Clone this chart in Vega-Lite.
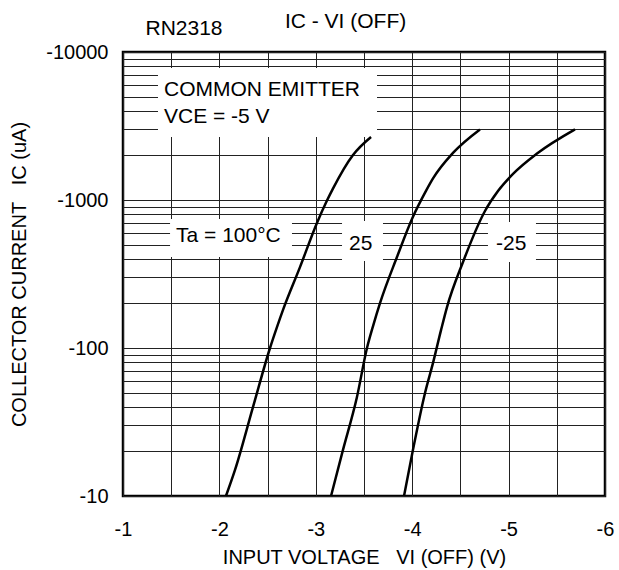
{
  "$schema": "https://vega.github.io/schema/vega-lite/v6.json",
  "width": 482,
  "height": 444,
  "autosize": {"type": "none"},
  "padding": {"left": 123, "top": 52, "right": 14, "bottom": 74},
  "background": "white",
  "config": {
    "view": {"stroke": "black", "strokeWidth": 2.5},
    "font": "Liberation Sans"
  },
  "datasets": {
    "curves": [
      {"ta": "100", "vi": -2.068, "ic": 10},
      {"ta": "100", "vi": -2.162, "ic": 15},
      {"ta": "100", "vi": -2.349, "ic": 40},
      {"ta": "100", "vi": -2.525, "ic": 100},
      {"ta": "100", "vi": -2.598, "ic": 139},
      {"ta": "100", "vi": -2.660, "ic": 181},
      {"ta": "100", "vi": -2.836, "ic": 352},
      {"ta": "100", "vi": -3.012, "ic": 700},
      {"ta": "100", "vi": -3.116, "ic": 991},
      {"ta": "100", "vi": -3.178, "ic": 1194},
      {"ta": "100", "vi": -3.386, "ic": 2015},
      {"ta": "100", "vi": -3.573, "ic": 2667},
      {"ta": "25", "vi": -3.158, "ic": 10},
      {"ta": "25", "vi": -3.282, "ic": 20.5},
      {"ta": "25", "vi": -3.427, "ic": 46.7},
      {"ta": "25", "vi": -3.531, "ic": 100},
      {"ta": "25", "vi": -3.593, "ic": 140},
      {"ta": "25", "vi": -3.666, "ic": 201},
      {"ta": "25", "vi": -3.842, "ic": 412},
      {"ta": "25", "vi": -4.0, "ic": 751},
      {"ta": "25", "vi": -4.143, "ic": 1153},
      {"ta": "25", "vi": -4.216, "ic": 1400},
      {"ta": "25", "vi": -4.423, "ic": 2080},
      {"ta": "25", "vi": -4.703, "ic": 3000},
      {"ta": "-25", "vi": -3.915, "ic": 10},
      {"ta": "-25", "vi": -4.008, "ic": 20.5},
      {"ta": "-25", "vi": -4.133, "ic": 49.7},
      {"ta": "-25", "vi": -4.216, "ic": 79.3},
      {"ta": "-25", "vi": -4.299, "ic": 132},
      {"ta": "-25", "vi": -4.361, "ic": 189},
      {"ta": "-25", "vi": -4.527, "ic": 381},
      {"ta": "-25", "vi": -4.755, "ic": 843},
      {"ta": "-25", "vi": -4.890, "ic": 1150},
      {"ta": "-25", "vi": -5.046, "ic": 1500},
      {"ta": "-25", "vi": -5.295, "ic": 2060},
      {"ta": "-25", "vi": -5.689, "ic": 3000}
    ],
    "boxes": [
      {"vi": -1.363, "vi2": -3.635, "ic": 7800, "ic2": 2667},
      {"vi": -1.488, "vi2": -2.753, "ic": 745, "ic2": 412},
      {"vi": -3.272, "vi2": -3.697, "ic": 722, "ic2": 387},
      {"vi": -4.786, "vi2": -5.284, "ic": 710, "ic2": 381}
    ],
    "labels": [
      {"label": "COMMON EMITTER", "vi": -1.425, "ic": 5045},
      {"label": "VCE = -5 V", "vi": -1.425, "ic": 3296},
      {"label": "Ta = 100°C", "vi": -1.55, "ic": 520},
      {"label": "25", "vi": -3.344, "ic": 459},
      {"label": "-25", "vi": -4.869, "ic": 459},
      {"label": "RN2318", "vi": -1.233, "ic": 13030},
      {"label": "IC - VI (OFF)", "vi": -2.68, "ic": 14420}
    ]
  },
  "encoding": {
    "x": {
      "field": "vi",
      "type": "quantitative",
      "scale": {"domain": [-6, -1], "reverse": true, "nice": false, "zero": false},
      "axis": {
        "title": "INPUT VOLTAGE\u00a0\u00a0\u00a0VI (OFF) (V)",
        "values": [-1, -1.5, -2, -2.5, -3, -3.5, -4, -4.5, -5, -5.5, -6],
        "labelExpr": "datum.value % 1 == 0 ? '-' + abs(datum.value) : ''",
        "grid": true,
        "gridColor": "#222222",
        "gridOpacity": 1,
        "gridWidth": 1,
        "ticks": false,
        "tickSize": 0,
        "domain": false,
        "labelPadding": 23,
        "labelFontSize": 20,
        "labelColor": "black",
        "labelOverlap": false,
        "labelFlush": false,
        "labelBound": false,
        "titleFontSize": 20,
        "titleFontWeight": "normal",
        "titleColor": "black",
        "titlePadding": 8
      }
    },
    "y": {
      "field": "ic",
      "type": "quantitative",
      "scale": {"type": "log", "domain": [10, 10000], "nice": false},
      "axis": {
        "title": "COLLECTOR CURRENT\u00a0\u00a0\u00a0IC (uA)",
        "values": [10, 20, 30, 40, 50, 60, 70, 80, 90, 100, 200, 300, 400, 500, 600, 700, 800, 900, 1000, 2000, 3000, 4000, 5000, 6000, 7000, 8000, 9000, 10000],
        "labelExpr": "indexof([10, 100, 1000, 10000], datum.value) >= 0 ? '-' + datum.value : ''",
        "grid": true,
        "gridColor": "#222222",
        "gridOpacity": 1,
        "gridWidth": 1,
        "ticks": false,
        "tickSize": 0,
        "domain": false,
        "labelPadding": 15,
        "labelFontSize": 20,
        "labelColor": "black",
        "labelOverlap": false,
        "labelFlush": false,
        "labelBound": false,
        "titleFontSize": 20,
        "titleFontWeight": "normal",
        "titleColor": "black",
        "titlePadding": 16
      }
    }
  },
  "layer": [
    {
      "data": {"name": "boxes"},
      "mark": {"type": "rect", "fill": "white"},
      "encoding": {
        "x2": {"field": "vi2"},
        "y2": {"field": "ic2"}
      }
    },
    {
      "data": {"name": "curves"},
      "mark": {"type": "line", "color": "black", "strokeWidth": 2.5, "interpolate": "monotone"},
      "encoding": {
        "detail": {"field": "ta", "type": "nominal"}
      }
    },
    {
      "data": {"name": "labels"},
      "mark": {"type": "text", "align": "left", "baseline": "alphabetic", "fontSize": 21, "color": "black"},
      "encoding": {
        "text": {"field": "label", "type": "nominal"}
      }
    }
  ]
}
